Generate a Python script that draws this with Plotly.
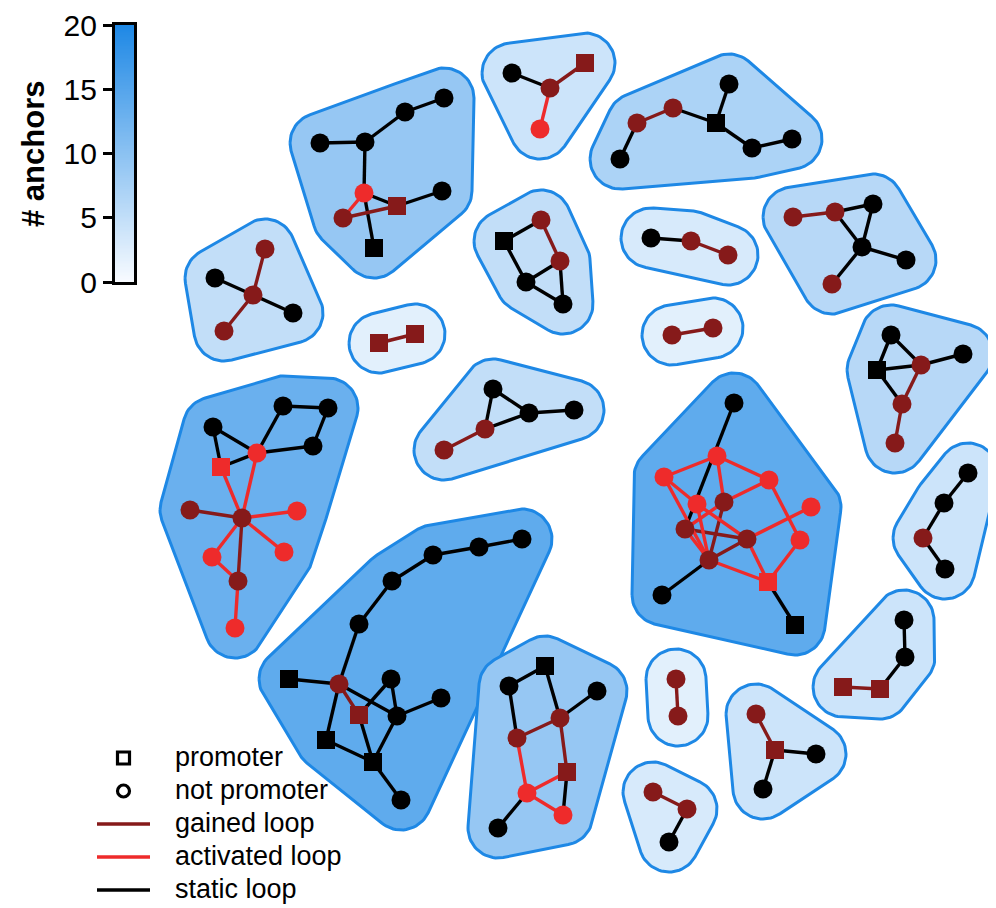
import math
import plotly.graph_objects as go
from plotly.colors import sample_colorscale

W, H = 996, 908
OFF = 8  # page body margin of the html page

# ---------------- data ----------------
# number of anchors per cluster (colour of the hull)
CLUSTER_ANCHORS = [9, 4, 7, 3, 2, 6, 5, 2, 5, 5, 13, 14, 14, 6, 4, 4, 2, 4, 3, 9]

# nodes (anchors): cluster id, layout position, promoter flag, loop state of anchor
NODE_CLUSTER = [0]*9 + [1]*4 + [2]*7 + [3]*3 + [4]*2 + [5]*6 + [6]*5 + [7]*2 + [8]*5 + [9]*5 \
    + [10]*13 + [11]*14 + [12]*14 + [13]*6 + [14]*4 + [15]*4 + [16]*2 + [17]*4 + [18]*3 + [19]*9
NODE_X = [320, 365, 405, 444, 364, 343, 397, 442, 374,
          512, 550, 585, 540,
          620, 637, 673, 716, 729, 752, 792,
          651, 691, 728,
          672, 713,
          793, 835, 873, 862, 906, 832,
          215, 253, 265, 293, 224,
          379, 415,
          504, 541, 560, 526, 563,
          493, 529, 574, 485, 444,
          213, 283, 328, 313, 257, 221, 242, 190, 297, 212, 284, 238, 235,
          522, 479, 433, 392, 359, 339, 289, 359, 391, 397, 441, 326, 373, 401,
          734, 717, 664, 769, 697, 724, 811, 685, 747, 800, 709, 768, 662, 795,
          891, 877, 921, 963, 902, 895,
          968, 944, 923, 945,
          904, 905, 880, 843,
          676, 678,
          756, 775, 816, 763,
          653, 687, 669,
          509, 545, 597, 560, 517, 567, 527, 563, 498]
NODE_Y = [143, 142, 112, 98, 193, 218, 206, 191, 248,
          73, 88, 63, 129,
          159, 123, 108, 123, 84, 148, 139,
          238, 241, 255,
          335, 328,
          217, 212, 204, 247, 260, 284,
          278, 295, 249, 313, 331,
          343, 334,
          241, 220, 261, 282, 304,
          389, 413, 410, 429, 450,
          427, 406, 408, 446, 453, 467, 518, 510, 511, 557, 552, 581, 628,
          539, 547, 555, 581, 624, 684, 679, 715, 679, 716, 698, 740, 762, 800,
          403, 456, 477, 480, 504, 502, 507, 529, 539, 540, 560, 582, 595, 625,
          335, 370, 365, 354, 404, 443,
          473, 503, 538, 569,
          620, 657, 689, 687,
          679, 716,
          714, 750, 754, 789,
          792, 809, 842,
          686, 666, 691, 718, 738, 772, 793, 815, 828]
NODE_PROMOTER = [0, 0, 0, 0, 0, 0, 1, 0, 1,
                 0, 0, 1, 0,
                 0, 0, 0, 1, 0, 0, 0,
                 0, 0, 0,
                 0, 0,
                 0, 0, 0, 0, 0, 0,
                 0, 0, 0, 0, 0,
                 1, 1,
                 1, 0, 0, 0, 0,
                 0, 0, 0, 0, 0,
                 0, 0, 0, 0, 0, 1, 0, 0, 0, 0, 0, 0, 0,
                 0, 0, 0, 0, 0, 0, 1, 1, 0, 0, 0, 1, 1, 0,
                 0, 0, 0, 0, 0, 0, 0, 0, 0, 0, 0, 1, 0, 1,
                 0, 1, 0, 0, 0, 0,
                 0, 0, 0, 0,
                 0, 0, 1, 1,
                 0, 0,
                 0, 1, 0, 0,
                 0, 0, 0,
                 0, 1, 0, 0, 0, 1, 0, 0, 0]
# s = static, g = gained, a = activated
NODE_STATE = ["s", "s", "s", "s", "a", "g", "g", "s", "s",
              "s", "g", "g", "a",
              "s", "g", "g", "s", "s", "s", "s",
              "s", "g", "g",
              "g", "g",
              "g", "g", "s", "s", "s", "g",
              "s", "g", "g", "s", "g",
              "g", "g",
              "s", "g", "g", "s", "s",
              "s", "s", "s", "g", "g",
              "s", "s", "s", "s", "a", "a", "g", "g", "a", "a", "a", "g", "a",
              "s", "s", "s", "s", "s", "g", "s", "g", "s", "s", "s", "s", "s", "s",
              "s", "a", "a", "a", "a", "g", "a", "g", "g", "a", "g", "a", "s", "s",
              "s", "s", "g", "s", "g", "g",
              "s", "s", "g", "s",
              "s", "s", "g", "g",
              "g", "g",
              "g", "g", "s", "s",
              "g", "g", "s",
              "s", "s", "s", "g", "g", "g", "a", "a", "s"]

# loops (edges between anchors)
EDGE_SRC = [0, 1, 2, 1, 4, 4, 5, 4, 6,
            9, 10, 10,
            13, 14, 15, 16, 16, 18,
            20, 21,
            23,
            25, 26, 26, 27, 28, 28,
            31, 32, 32, 32,
            36,
            38, 39, 38, 41, 40, 41,
            43, 44, 43, 46, 46,
            48, 48, 53, 52, 49, 50, 52, 53, 52, 54, 54, 54, 54, 54, 57, 59,
            61, 62, 63, 64, 65, 67, 66, 66, 66, 68, 72, 73, 73, 70, 69, 69,
            75, 76, 76, 76, 77, 77, 78, 78, 79, 79, 80, 80, 82, 82, 83, 83, 83, 85, 84, 85, 86,
            89, 89, 90, 91, 90, 91, 93,
            95, 96, 97,
            99, 100, 101,
            103,
            105, 106, 106,
            109, 110,
            112, 113, 115, 112, 116, 115, 116, 117, 118, 117, 118]
EDGE_DST = [1, 2, 3, 4, 8, 5, 6, 6, 7,
            10, 11, 12,
            14, 15, 16, 17, 18, 19,
            21, 22,
            24,
            26, 27, 28, 28, 29, 30,
            32, 34, 33, 35,
            37,
            39, 40, 41, 40, 42, 42,
            44, 45, 46, 44, 47,
            52, 53, 52, 49, 50, 51, 51, 54, 54, 55, 56, 57, 58, 59, 59, 60,
            62, 63, 64, 65, 66, 66, 68, 70, 72, 73, 73, 70, 74, 71, 70, 68,
            82, 77, 78, 80, 79, 85, 80, 84, 83, 85, 82, 85, 83, 85, 85, 81, 86, 86, 86, 87, 88,
            90, 91, 91, 92, 93, 93, 94,
            96, 97, 98,
            100, 101, 102,
            104,
            106, 107, 108,
            110, 111,
            113, 115, 114, 116, 115, 117, 118, 118, 119, 119, 120]
EDGE_STATE = ["s", "s", "s", "s", "s", "a", "g", "s", "s",
              "s", "g", "a",
              "s", "g", "s", "s", "s", "s",
              "s", "g",
              "g",
              "g", "s", "s", "s", "s", "s",
              "s", "s", "g", "g",
              "g",
              "s", "g", "s", "s", "s", "s",
              "s", "s", "s", "s", "g",
              "s", "s", "s", "s", "s", "s", "s", "a", "a", "g", "a", "a", "a", "g", "a", "a",
              "s", "s", "s", "s", "s", "s", "g", "s", "s", "s", "s", "s", "s", "s", "s", "s",
              "s", "a", "a", "a", "a", "a", "a", "a", "a", "a", "a", "g", "g", "a", "g", "a", "a", "a", "a", "s", "s",
              "s", "s", "s", "s", "s", "g", "g",
              "s", "s", "s",
              "s", "s", "g",
              "g",
              "g", "s", "s",
              "g", "s",
              "s", "s", "s", "s", "g", "g", "a", "a", "a", "s", "s"]

CBAR_TICKS = [0, 5, 10, 15, 20]
CBAR_MAX = 20
LEGEND_LABELS = ["promoter", "not promoter", "gained loop", "activated loop", "static loop"]

# ---------------- style ----------------
STATE_COLOR = {"s": "#000000", "g": "#861A1A", "a": "#EE2B2B"}
COLORSCALE = [[0.0, "#F8FBFF"], [1.0, "#1E88E5"]]
HULL_LINE = "#1E88E5"
FONT = "Liberation Sans, Arial, sans-serif"
PAD = 30


def convex_hull(pts):
    pts = sorted(set(pts))
    if len(pts) <= 2:
        return pts

    def cross(o, a, b):
        return (a[0] - o[0]) * (b[1] - o[1]) - (a[1] - o[1]) * (b[0] - o[0])
    lower, upper = [], []
    for p in pts:
        while len(lower) >= 2 and cross(lower[-2], lower[-1], p) <= 0:
            lower.pop()
        lower.append(p)
    for p in reversed(pts):
        while len(upper) >= 2 and cross(upper[-2], upper[-1], p) <= 0:
            upper.pop()
        upper.append(p)
    return lower[:-1] + upper[:-1]


fig = go.Figure()

# hulls
n_clusters = len(CLUSTER_ANCHORS)
for c in range(n_clusters):
    pts = []
    for i, cl in enumerate(NODE_CLUSTER):
        if cl != c:
            continue
        for k in range(72):
            t = 2 * math.pi * k / 72
            pts.append((round(NODE_X[i] + PAD * math.cos(t), 3), round(NODE_Y[i] + PAD * math.sin(t), 3)))
    hull = convex_hull(pts)
    hull.append(hull[0])
    col = sample_colorscale(COLORSCALE, [min(CLUSTER_ANCHORS[c], CBAR_MAX) / CBAR_MAX])[0]
    fig.add_trace(go.Scatter(x=[p[0] for p in hull], y=[p[1] for p in hull], mode="lines",
                             fill="toself", fillcolor=col,
                             line=dict(color=HULL_LINE, width=3),
                             hoverinfo="skip", showlegend=False))

# edges
for st in ["s", "g", "a"]:
    xs, ys = [], []
    for a, b, s in zip(EDGE_SRC, EDGE_DST, EDGE_STATE):
        if s != st:
            continue
        xs += [NODE_X[a], NODE_X[b], None]
        ys += [NODE_Y[a], NODE_Y[b], None]
    fig.add_trace(go.Scatter(x=xs, y=ys, mode="lines",
                             line=dict(color=STATE_COLOR[st], width=3.4),
                             hoverinfo="skip", showlegend=False))

# nodes
fig.add_trace(go.Scatter(
    x=NODE_X, y=NODE_Y, mode="markers",
    marker=dict(symbol=["square" if p else "circle" for p in NODE_PROMOTER],
                size=[18 if p else 19 for p in NODE_PROMOTER],
                color=[STATE_COLOR[s] for s in NODE_STATE],
                opacity=1, line=dict(width=0)),
    hoverinfo="skip", showlegend=False))

# manual legend
LEG_Y = [758, 791, 824, 857, 890]
fig.add_trace(go.Scatter(x=[123.5], y=[LEG_Y[0]], mode="markers",
                         marker=dict(symbol="square-open", size=12, color="black", opacity=1,
                                     line=dict(width=3.2)),
                         hoverinfo="skip", showlegend=False))
fig.add_trace(go.Scatter(x=[123.5], y=[LEG_Y[1]], mode="markers",
                         marker=dict(symbol="circle-open", size=12, color="black", opacity=1,
                                     line=dict(width=3.2)),
                         hoverinfo="skip", showlegend=False))
for yy, st in zip(LEG_Y[2:], ["g", "a", "s"]):
    fig.add_trace(go.Scatter(x=[97, 150], y=[yy, yy], mode="lines",
                             line=dict(color=STATE_COLOR[st], width=3.6),
                             hoverinfo="skip", showlegend=False))
for yy, lab in zip(LEG_Y, LEGEND_LABELS):
    fig.add_annotation(x=173, y=yy - 1, xref="x", yref="y", text=lab, showarrow=False,
                       xanchor="left", yanchor="middle",
                       font=dict(family=FONT, size=27, color="black"))

# colour bar as a heatmap on its own axes
cb_vals = [i * 0.1 for i in range(int(CBAR_MAX * 10) + 1)]
fig.add_trace(go.Heatmap(x=[0], y=cb_vals, z=[[v] for v in cb_vals], colorscale=COLORSCALE,
                         zmin=0, zmax=CBAR_MAX, showscale=False, hoverinfo="skip",
                         xaxis="x2", yaxis="y2"))
fig.add_annotation(x=33, y=154, xref="x", yref="y", text="<b># anchors</b>", textangle=-90,
                   showarrow=False, xanchor="center", yanchor="middle",
                   font=dict(family=FONT, size=31, color="black"))

PW, PH = W - OFF, H - OFF
fig.update_layout(
    width=PW, height=PH, margin=dict(l=0, r=0, t=0, b=0, autoexpand=False),
    plot_bgcolor="white", paper_bgcolor="white",
    xaxis=dict(range=[OFF, W], visible=False, domain=[0, 1], automargin=False),
    yaxis=dict(range=[H, OFF], visible=False, domain=[0, 1], automargin=False),
    xaxis2=dict(domain=[(115 - OFF) / PW, (134 - OFF) / PW], anchor="y2", range=[-0.5, 0.5],
                showticklabels=False, ticks="", showgrid=False, zeroline=False, automargin=False,
                showline=True, linewidth=3.3, linecolor="black", mirror=True),
    yaxis2=dict(domain=[1 - (282 - OFF) / PH, 1 - (25 - OFF) / PH], anchor="x2", range=[0, CBAR_MAX],
                tickvals=CBAR_TICKS, ticks="outside", ticklen=9, tickwidth=3.3, tickcolor="black",
                tickfont=dict(family=FONT, size=30, color="black"), automargin=False,
                showgrid=False, zeroline=False,
                showline=True, linewidth=3.3, linecolor="black", mirror=True),
    showlegend=False,
)

fig.write_html("out.html")
